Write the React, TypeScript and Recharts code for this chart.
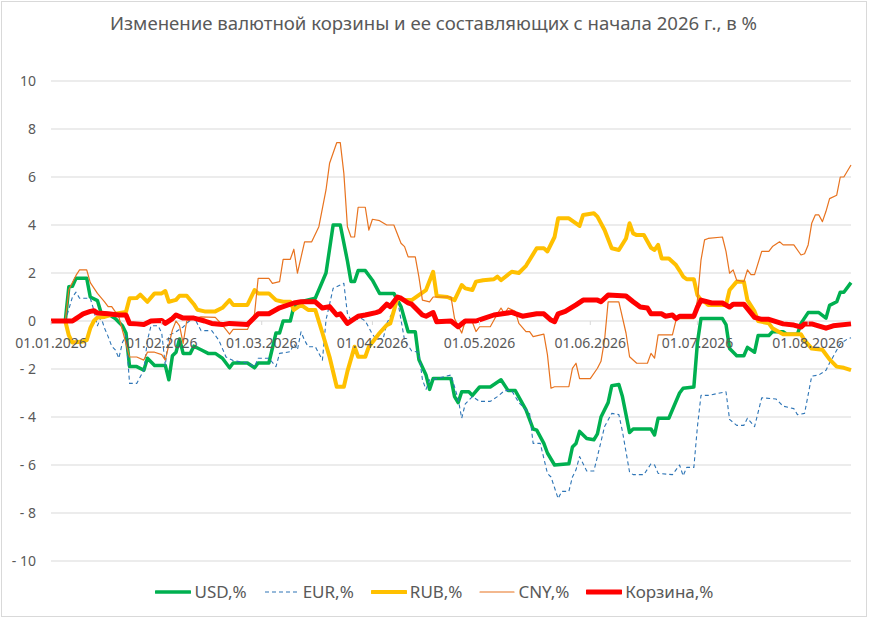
import { LineChart, Line, XAxis, YAxis, CartesianGrid, ReferenceDot } from 'recharts';

// [day since 01.01.2026, % change]
const USD: [number, number][] = [
  [0, 0], [4, 0], [5, 1.43], [6, 1.45], [7, 1.78], [10, 1.78], [11, 1.0], [13, 0.85], [14, 0.35], [16, 0.3],
  [17, 0.2], [18, 0.1], [19, -0.05], [20, -0.2], [21, -0.5], [22, -1.9], [24, -1.9], [26, -2.05], [27, -1.55],
  [29, -1.85], [32, -1.85], [33, -2.45], [34, -1.45], [35, -1.3], [36, -0.75], [37, -1.35], [39, -1.35],
  [40, -1.05], [42, -1.2], [44, -1.35], [46, -1.35], [48, -1.55], [50, -1.95], [51, -1.75], [55, -1.75],
  [57, -1.95], [58, -1.75], [61, -1.75], [63, -0.5], [64, -0.5], [65, 0], [67, 0], [68, 0.6], [70, 0.8],
  [74, 0.95], [77, 2.0], [79, 4.0], [81, 4.0], [83, 2.5], [84, 1.65], [85, 1.65], [86, 2.1], [88, 2.1],
  [90, 1.7], [92, 1.15], [96, 1.15], [98, 0.6], [100, -0.45], [102, -0.45], [103, -1.6], [105, -2.25],
  [106, -2.85], [107, -2.4], [112, -2.4], [113, -3.15], [114, -3.4], [115, -2.95], [117, -2.95], [118, -3.1],
  [120, -2.75], [123, -2.75], [126, -2.45], [128, -2.9], [130, -2.9], [133, -3.7], [135, -4.5], [136, -4.55],
  [138, -5.1], [139, -5.5], [141, -6.0], [145, -5.95], [146, -5.25], [147, -5.1], [148, -4.6], [150, -4.9],
  [152, -4.95], [153, -4.7], [154, -4.0], [156, -3.4], [157, -2.7], [159, -2.65], [160, -3.15], [162, -4.65],
  [163, -4.5], [168, -4.5], [169, -4.75], [170, -4.05], [173, -4.05], [174, -3.7], [176, -3.0], [177, -2.8],
  [180, -2.75], [181, -0.9], [182, 0.1], [188, 0.1], [189, -0.15], [190, -1.15], [192, -1.45], [194, -1.45],
  [195, -1.1], [197, -1.3], [198, -0.6], [201, -0.6], [202, -0.45], [205, -0.45], [206, -0.55], [209, -0.55],
  [210, -0.1], [212, 0.35], [215, 0.35], [217, 0.12], [218, 0.65], [220, 0.8], [221, 1.2], [222, 1.2], [224, 1.6],
];

const EUR: [number, number][] = [
  [0, 0], [4, 0], [6, 1.0], [7, 1.2], [8, 0.95], [11, 0.95], [12, 0.45], [13, -0.2], [14, 0.15], [15, -0.3],
  [16, -0.65], [17, -1.05], [18, -1.2], [19, -1.55], [20, -0.9], [21, -0.6], [22, -2.6], [24, -2.6], [26, -2.05],
  [27, -0.8], [28, -0.2], [30, -0.2], [31, -0.5], [32, -1.85], [33, -0.6], [35, -0.45], [37, -0.25], [38, -0.1],
  [40, 0.17], [42, -0.4], [45, -0.4], [47, -0.8], [49, -1.5], [51, -1.65], [55, -1.75], [57, -1.9], [58, -1.55],
  [61, -1.55], [63, -1.9], [64, -1.35], [67, -1.28], [68, -0.95], [69, -1.2], [70, -0.45], [71, -0.8],
  [72, -1.07], [74, -1.07], [76, -1.63], [77, 0.04], [79, 1.36], [81, 1.5], [82, 1.57], [83, 0.3], [84, 0.04],
  [87, 0.1], [88, 0], [90, -0.55], [91, -0.75], [93, -0.75], [94, -0.1], [96, 0.45], [97, 0.9], [99, -0.8],
  [101, -1.25], [103, -1.3], [104, -2.45], [105, -2.85], [106, -2.45], [108, -2.4], [112, -2.25], [114, -3.25],
  [115, -4.05], [116, -3.45], [118, -3.15], [120, -3.35], [123, -3.35], [125, -3.15], [127, -2.9], [129, -2.9],
  [131, -3.4], [134, -3.85], [135, -5.1], [137, -5.1], [139, -6.35], [140, -6.5], [142, -7.4], [143, -7.1],
  [145, -7.1], [146, -6.5], [147, -6.2], [148, -5.65], [150, -6.25], [152, -6.25], [153, -5.65], [155, -4.4],
  [157, -3.85], [159, -3.9], [160, -4.6], [162, -6.3], [163, -6.4], [166, -6.4], [168, -5.95], [169, -6.0],
  [170, -6.35], [174, -6.4], [176, -6.0], [177, -6.45], [178, -6.1], [180, -6.1], [181, -4.4], [182, -3.1],
  [184, -3.1], [189, -2.95], [190, -4.1], [192, -4.35], [194, -4.35], [195, -4.05], [197, -4.4], [199, -3.2],
  [203, -3.25], [205, -3.55], [208, -3.65], [209, -3.9], [211, -3.85], [213, -2.3], [215, -2.25], [217, -2.05],
  [218, -1.75], [221, -0.95], [223, -0.75], [224, -0.7],
];

const RUB: [number, number][] = [
  [0, 0], [4, 0], [5, -0.6], [6, -0.9], [9, -0.85], [10, -0.8], [11, -0.3], [12, 0], [13, 0.15], [15, 0.17],
  [18, 0.3], [21, 0.38], [22, 0.95], [24, 0.96], [25, 1.1], [27, 0.8], [29, 1.15], [31, 1.15], [32, 1.25],
  [33, 0.8], [35, 0.88], [36, 1.05], [38, 1.05], [40, 0.7], [41, 0.47], [43, 0.4], [46, 0.4], [48, 0.55],
  [50, 0.87], [51, 0.67], [55, 0.67], [57, 1.29], [58, 1.15], [61, 1.15], [63, 0.87], [65, 0.8], [67, 0.8],
  [68, 0.46], [70, 0.67], [72, 0.46], [74, 0.46], [76, -0.5], [78, -1.5], [80, -2.74], [82, -2.74], [83, -2.1],
  [85, -1.07], [86, -1.49], [88, -1.49], [89, -1.07], [92, -0.5], [94, -0.17], [95, -0.1], [97, 0.95],
  [99, 0.87], [101, 0.87], [103, 1.08], [105, 1.29], [107, 2.05], [108, 1.04], [111, 1.0], [113, 0.87],
  [115, 1.5], [116, 1.36], [118, 1.29], [119, 1.64], [121, 1.7], [124, 1.74], [125, 1.85], [126, 1.7],
  [129, 2.05], [131, 2.0], [133, 2.3], [136, 3.03], [138, 3.03], [139, 2.9], [141, 3.5], [142, 4.28],
  [145, 4.28], [147, 4.07], [148, 3.96], [149, 4.42], [152, 4.49], [153, 4.35], [155, 3.79], [157, 3.03],
  [159, 2.96], [161, 3.44], [162, 4.07], [163, 3.65], [164, 3.58], [166, 3.58], [168, 3.05], [169, 2.96],
  [170, 3.17], [171, 2.6], [173, 2.6], [175, 2.33], [176, 2.1], [177, 1.85], [178, 1.74], [180, 1.74],
  [181, 1.08], [182, 0.87], [183, 0.8], [184, 0.67], [189, 0.67], [190, 1.29], [192, 1.64], [194, 1.64],
  [195, 0.87], [197, 0.4], [198, 0.0], [201, -0.1], [202, -0.3], [205, -0.55], [210, -0.55], [211, -0.8],
  [213, -1.15], [216, -1.2], [218, -1.6], [220, -1.9], [222, -1.95], [224, -2.05],
];

const CNY: [number, number][] = [
  [0, 0], [4, 0], [5, 1.3], [6, 1.6], [7, 1.9], [8, 2.13], [10, 2.13], [11, 1.6], [13, 1.15], [15, 0.8],
  [16, 0.6], [17, 0.6], [19, 0.17], [22, -1.5], [24, -1.5], [26, -1.63], [27, -1.3], [29, -1.3], [31, -1.4],
  [32, -1.63], [34, -0.37], [35, 0], [36, -0.2], [37, -0.93], [38, 0], [40, 0.1], [42, 0.17], [46, 0.15],
  [48, -0.17], [50, -0.55], [51, -0.35], [55, -0.35], [57, 0.3], [58, 1.78], [61, 1.78], [62, 1.57],
  [64, 1.64], [65, 2.57], [67, 2.57], [68, 2.99], [69, 1.99], [71, 3.3], [73, 3.3], [75, 3.93], [77, 5.46],
  [78, 6.57], [80, 7.43], [81, 7.43], [82, 6.15], [83, 3.93], [84, 3.5], [85, 3.5], [86, 4.74], [88, 4.74],
  [89, 3.79], [90, 4.24], [92, 4.18], [94, 4.0], [96, 4.0], [98, 3.24], [99, 3.1], [100, 2.67], [102, 2.67],
  [103, 1.85], [104, 0.87], [106, 0.8], [107, 1.0], [112, 1.0], [113, 0.1], [115, -0.5], [116, 0],
  [118, -0.05], [119, -0.44], [120, -0.24], [123, -0.24], [125, 0.3], [126, 0.54], [127, 0.3], [128, 0.54],
  [130, 0.4], [131, -0.1], [133, -0.44], [134, -0.44], [135, -0.65], [138, -0.55], [139, -1.4], [140, -2.8],
  [141, -2.74], [145, -2.74], [146, -1.97], [147, -1.76], [148, -2.4], [151, -2.4], [153, -1.97],
  [154, -1.68], [155, -0.79], [156, 0.8], [159, 0.8], [161, -0.5], [162, -1.49], [164, -1.76], [167, -1.76],
  [168, -1.35], [169, -1.55], [170, -0.58], [174, -0.58], [175, 0.04], [176, 0.1], [180, 0.1], [181, 0.87],
  [182, 2.54], [183, 3.38], [184, 3.44], [188, 3.5], [189, 2.9], [190, 1.99], [191, 2.13], [192, 1.7],
  [194, 1.64], [195, 2.13], [196, 1.93], [197, 1.93], [199, 2.9], [201, 2.9], [202, 3.1], [204, 3.3],
  [205, 3.17], [208, 3.17], [210, 2.75], [211, 2.8], [212, 3.17], [213, 4.07], [214, 4.42], [215, 4.42],
  [216, 4.14], [217, 4.57], [218, 5.1], [220, 5.24], [221, 6.0], [222, 6.0], [224, 6.5],
];

const BASKET: [number, number][] = [
  [0, 0], [6, 0], [7, 0.1], [8, 0.2], [9, 0.3], [11, 0.4], [12, 0.43], [13, 0.33], [16, 0.3], [19, 0.25],
  [21, 0.25], [22, -0.1], [24, -0.12], [26, -0.15], [28, 0], [31, 0.02], [32, -0.1], [34, 0.1], [35, 0.25],
  [37, 0.12], [40, 0.12], [43, 0], [45, -0.1], [48, -0.15], [50, -0.1], [55, -0.15], [58, 0.3], [61, 0.3],
  [64, 0.55], [68, 0.75], [70, 0.8], [74, 0.8], [76, 0.54], [78, 0.6], [80, 0.25], [81, 0.3], [83, -0.1],
  [86, 0.2], [88, 0.25], [91, 0.35], [92, 0.4], [94, 0.7], [95, 0.6], [97, 1.0], [98, 0.95], [100, 0.75],
  [101, 0.7], [104, 0.25], [105, 0.2], [107, 0.35], [108, -0.03], [112, 0], [114, -0.24], [116, 0], [119, 0],
  [121, 0.1], [124, 0.25], [129, 0.36], [132, 0.2], [136, 0.3], [138, 0.3], [140, 0.04], [141, -0.03],
  [142, 0.3], [144, 0.4], [147, 0.67], [149, 0.87], [153, 0.87], [154, 0.8], [156, 1.08], [161, 1.04],
  [163, 0.8], [165, 0.58], [167, 0.54], [168, 0.3], [171, 0.3], [172, 0.2], [174, 0.25], [175, 0.1],
  [176, 0.2], [180, 0.2], [181, 0.58], [182, 0.87], [185, 0.75], [188, 0.75], [190, 0.58], [191, 0.7],
  [194, 0.7], [197, 0.15], [199, 0.07], [201, 0.07], [205, -0.12], [208, -0.17], [210, -0.25], [211, -0.12],
  [213, -0.12], [217, -0.3], [219, -0.2], [224, -0.12],
];

const MONTH_DAYS = [0, 31, 59, 90, 120, 151, 181, 212];
const MONTH_LABELS = ['01.01.2026', '01.02.2026', '01.03.2026', '01.04.2026', '01.05.2026', '01.06.2026', '01.07.2026', '01.08.2026'];
const Y_TICKS = [-10, -8, -6, -4, -2, 0, 2, 4, 6, 8, 10];

const FONT = '"Noto Sans", sans-serif';
const TEXT = '#595959';
const GRID = '#d9d9d9';

const SERIES = [
  { name: 'USD,%', pts: USD, color: '#00B050', width: 3.5 },
  { name: 'EUR,%', pts: EUR, color: '#2E75B6', width: 1.1, dash: '4 3' },
  { name: 'RUB,%', pts: RUB, color: '#FFC000', width: 4 },
  { name: 'CNY,%', pts: CNY, color: '#E8731F', width: 1.2 },
  { name: 'Корзина,%', pts: BASKET, color: '#FF0000', width: 5 },
];

const toPoints = (arr: [number, number][]) => arr.map(([d, v]) => ({ d, v }));

const fmtY = (v: number) => (v < 0 ? `- ${Math.abs(v)}` : `${v}`);

function MonthTick({ cx, cy, label }: any) {
  return (
    <g>
      <line x1={cx} x2={cx} y1={cy} y2={cy + 4} stroke={GRID} />
      <text x={cx} y={cy + 27} textAnchor="middle" fontSize={14} fill={TEXT} fontFamily={FONT}>
        {label}
      </text>
    </g>
  );
}

export default function App() {
  return (
    <div style={{ position: 'absolute', left: 0, top: 0, width: 869, height: 620, background: '#fff' }}>
      <div
        style={{
          position: 'absolute', left: 1, top: 1, width: 864, height: 614,
          border: `1px solid ${GRID}`,
        }}
      />
      <div
        style={{
          position: 'absolute', left: 0, top: 10, width: 867, textAlign: 'center',
          fontFamily: FONT, fontSize: 18.6, color: TEXT,
        }}
      >
        Изменение валютной корзины и ее составляющих с начала 2026 г., в %
      </div>
      <div style={{ position: 'absolute', left: 0, top: 0 }}>
        <LineChart width={869} height={620} margin={{ top: 81, right: 18, bottom: 59, left: 0 }}>
          <CartesianGrid horizontal vertical={false} stroke={GRID} />
          <XAxis dataKey="d" type="number" domain={[0, 224]} ticks={MONTH_DAYS} hide />
          <YAxis
            type="number"
            domain={[-10, 10]}
            ticks={Y_TICKS}
            width={51}
            axisLine={false}
            tickLine={false}
            tickMargin={9}
            tickFormatter={fmtY}
            tick={{ fill: TEXT, fontSize: 14, fontFamily: FONT }}
          />
          {SERIES.map((s) => (
            <Line
              key={s.name}
              data={toPoints(s.pts)}
              dataKey="v"
              name={s.name}
              type="linear"
              stroke={s.color}
              strokeWidth={s.width}
              strokeDasharray={s.dash}
              strokeLinejoin="round"
              dot={false}
              activeDot={false}
              isAnimationActive={false}
            />
          ))}
          {MONTH_DAYS.map((d, i) => (
            <ReferenceDot
              key={d}
              x={d}
              y={0}
              r={0}
              shape={(p: any) => <MonthTick {...p} label={MONTH_LABELS[i]} />}
            />
          ))}
        </LineChart>
      </div>
      <div
        style={{
          position: 'absolute', left: 0, top: 580, width: 869, display: 'flex',
          justifyContent: 'center', alignItems: 'center', gap: 17,
          fontFamily: FONT, fontSize: 17, color: TEXT,
        }}
      >
        {SERIES.map((s) => (
          <div key={s.name} style={{ display: 'flex', alignItems: 'center' }}>
            <svg width={36} height={10}>
              <line
                x1={1} x2={35} y1={5} y2={5}
                stroke={s.color}
                strokeWidth={s.width}
                strokeDasharray={s.dash}
                strokeLinecap={s.dash ? 'butt' : 'round'}
              />
            </svg>
            <span style={{ marginLeft: 3 }}>{s.name}</span>
          </div>
        ))}
      </div>
    </div>
  );
}
